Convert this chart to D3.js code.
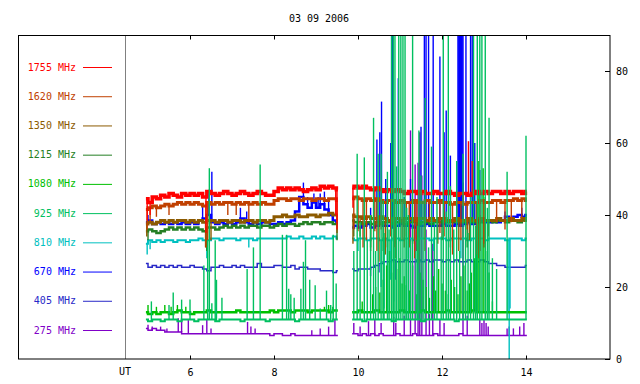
<!DOCTYPE html>
<html><head><meta charset="utf-8">
<script src="https://cdn.jsdelivr.net/npm/d3@7"></script>
<style>
body{margin:0;background:#fff}
svg text{font-family:"DejaVu Sans Mono",monospace;font-size:10px}
</style>
</head><body><svg id="c" width="640" height="384"></svg>
<script>
// ---------------- DATA ----------------
const title = "03 09 2006";
const xTicks = [6, 8, 10, 12, 14];
const yTicks = [0, 20, 40, 60, 80];
const utLabel = "UT";
const freqLabels = ["1755 MHz","1620 MHz","1350 MHz","1215 MHz","1080 MHz","925 MHz","810 MHz","670 MHz","405 MHz","275 MHz"];
const colors = ["#ff0000","#c04000","#8c5a00","#247f24","#00c000","#00c060","#00c0c0","#0000ff","#2828c8","#8000c8"];

// sample times (UT hours), two observing segments
const tA = [4.95,5.05,5.15,5.25,5.35,5.45,5.55,5.65,5.75,5.85,
            5.95,6.05,6.15,6.25,6.35,6.45,6.55,6.65,6.75,6.85,
            6.95,7.05,7.15,7.25,7.35,7.45,7.55,7.65,7.75,7.85,
            7.95,8.05,8.15,8.25,8.35,8.45,8.55,8.65,8.75,8.85,
            8.95,9.05,9.15,9.25,9.35,9.45,9.52];
const tB = [9.86,9.95,10.05,10.15,10.25,10.35,10.45,10.55,10.65,10.75,
            10.85,10.95,11.05,11.15,11.25,11.35,11.45,11.55,11.65,11.75,
            11.85,11.95,12.05,12.15,12.25,12.35,12.45,12.55,12.65,12.75,
            12.85,12.95,13.05,13.15,13.25,13.35,13.45,13.55,13.65,13.75,
            13.85,13.95,14.02];

const v1755A = [44.5,43.5,45,44.5,45.5,45,46,45.5,45,46,
                45.5,46,45.5,46,45,46.5,46,45.5,46,46.5,
                46,45.5,46,46.5,46,45.5,46,46.5,46,45.5,
                45.5,46.5,47.5,47,47.5,47,47.5,47,46.5,47,
                47.5,47,48,47.5,48,47.5,47];
const v1755B = [47.5,48,47.5,48,47.5,47,47.5,47,46.5,47,
                46.5,47,46.5,46,46.5,46.5,46,46.5,46,46,
                46.5,46,46,46.5,46,45.5,46,46,45.5,46,
                46.5,46,46.5,46,46.5,46.5,46,46.5,46,46.5,
                46.5,46,46.5];
const v1620A = [41.5,42,42.5,42,42.5,43,42.5,43,43.5,43,
                43.5,43,43.5,43,42.5,43.5,43,43.5,43,43.5,
                43.5,43,43.5,43,43.5,43,43.5,43,43.5,43,
                43,44,44.5,44.5,44,44.5,44.5,44,44.5,44.5,
                44,44.5,44.5,44,44.5,44.5,44];
const v1620B = [44.5,45,44.5,44,44.5,44,44.5,44,43.5,44,
                44,43.5,44,43.5,43.5,44,43.5,43.5,44,43.5,
                43.5,44,43.5,43.5,43,43.5,43.5,43,43.5,43.5,
                43.5,44,43.5,43.5,44,44,43.5,44,44,44.5,
                44,44.5,44];
const v1350A = [37.5,38,37.5,38,38.5,38,38.5,38,38.5,38.5,
                38,38.5,38,38.5,38,38.5,38.5,38,38.5,38.5,
                38,38.5,38.5,38,38.5,38.5,38,38.5,38.5,38,
                38.5,39.5,39.5,40,39.5,39.5,40,39.5,39.5,40,
                40,39.5,40,40,40.5,40,40];
const v1350B = [40,39.5,39.5,39,39.5,39,39,39.5,39,38.5,
                39,39,38.5,39,39,38.5,39,39,38.5,39,
                38.5,39,39,38.5,38.5,39,38.5,38.5,39,38.5,
                38.5,39,38.5,38.5,38.5,39,38.5,38.5,39,38.5,
                38.5,39,38.5];
const v1215A = [35.5,36,35.5,35,35.5,36,36.5,36,36.5,36,
                36.5,36,36.5,36,35.5,36.5,36.5,36,36.5,37,
                36.5,37,36.5,37,36.5,37,37,36.5,37,37,
                36.5,37,37.5,37,37.5,37.5,37,37.5,38,37.5,
                38,38,37.5,38,38,37.5,37.5];
const v1215B = [38.5,38,38,37.5,38,37.5,38,37.5,38,38,
                37.5,38,38,37.5,38,38,37.5,38,38,37.5,
                38,38,38.5,38,38,38.5,38,38,38.5,38,
                38.5,38,38.5,38.5,38,38.5,38.5,38,38.5,38.5,
                38,38.5,38.5];
const v1080A = [13,12.5,13,12.5,13,13,12.5,13,13.5,13,
                13,12.5,13,13,13,13.5,13,13,13,13,
                13,13,13.5,13,13,13,13,13,13,13,
                13.5,13,13.5,13.5,13.5,13,13.5,13.5,13.5,13,
                13.5,13.5,13.5,13.5,13,13.5,13.5];
const v1080B = [13,13,13.5,13,13,13,13.5,13,13,13,
                13,13,13.5,13,13,13,13,13.5,13,13,
                13,13,13,13.5,13,13,13,13,13,13.5,
                13,13,13,13,13,13,13,13,13,13,
                13,13,13];
const v925A = [11,10.5,11,11,10.5,11,11,11,10.5,11,
               11,11,10.5,11,11,11,11,10.5,11,11,
               11,11,11,10.5,11,11,11,11,11,10.5,
               11,11,11,11,11,11,10.5,11,11,11,
               11,11,11,11,10.5,11,11];
const v925B = [11,11,11,10.5,11,11,11,11,11,11,
               10.5,11,11,11,11,11,11,10.5,11,11,
               11,11,11,11,11,10.5,11,11,11,11,
               11,11,11,11,11,11,11,11,11,11,
               11,11,11];
const v810A = [32,33,32.5,33,32.5,33,33,32.5,33,33,
               32.5,33,33,33.5,33,33,33.5,33.5,33,33.5,
               33.5,33.5,33,33.5,33.5,33.5,33,33.5,33.5,33.5,
               33.5,33.5,33.5,33.5,34,33.5,33.5,34,33.5,33.5,
               34,33.5,34,33.5,33.5,34,33.5];
const v810B = [33.5,33,33.5,33.5,33,33.5,33.5,33,33.5,33,
               33.5,33.5,33,33.5,33.5,33,33.5,33.5,33.5,33,
               33.5,33.5,33.5,33,33.5,33.5,33.5,33.5,33,33.5,
               33.5,33.5,33,33.5,33.5,33.5,33.5,33,33.5,33.5,
               33.5,33,33.5];
const v670A = [38,38.5,37.5,38,37.5,38,37.5,38,37.5,38,
               37.5,38,37.5,38.5,39,40,38,37.5,38,37.5,
               38,37.5,38,39,38,37.5,38,37.5,38,38,
               37.5,37.5,38,37.5,38,38.5,41,45,43,42,
               43.5,42,43,41.5,40,38.5,38];
const v670B = [36.5,37,36.5,37,37.5,36.5,37,37.5,37,37,
               36.5,37,37.5,37,37,36.5,37,37,37.5,37,
               37,37,37.5,37,37,37.5,37,37.5,38,37.5,
               38,38.5,38,38,38.5,38,38.5,39.5,39,39.5,
               40,39.5,40];
const v405A = [26.5,25.5,26,25.5,26,25.5,26,25.5,26,25.5,
               25.5,26,25.5,25.5,25,24.5,25.5,25.5,26,25.5,
               25.5,26,25.5,26,25.5,25.5,25.5,26.5,25.5,25.5,
               25.5,26,26,25.5,25.5,26,25,25.5,25.5,25,
               25,25,24.5,24.5,24.5,24,24.5];
const v405B = [25,24.5,25,25,25,25.5,26,26.5,27,27,
               27.5,27,27,27.5,27,27,27.5,27,27.5,27,
               27.5,27.5,27,27.5,27,27.5,27,27,27.5,27,
               27,27.5,27,26.5,26.5,26,26,25.5,25.5,25.5,
               25.5,25.5,26];
const v275A = [8.5,8,8.5,8,8,7.5,7.5,7.5,7.5,7,
               7,7,7,7,7,7,7,7,7,7,
               7,7,7,7,7,7,7,7,7,7,
               6.5,7,7,6.5,6.5,7,6.5,6.5,6.5,6.5,
               6.5,6.5,6.5,6.5,6.5,6.5,6.5];
const v275B = [7,7,6.5,7,6.5,7,6.5,7,6.5,6.5,
               6.5,7,6.5,6.5,6.5,7,6.5,6.5,6.5,6.5,
               7,6.5,6.5,6.5,6.5,6.5,7,6.5,6.5,6.5,
               6.5,6.5,6.5,6.5,6.5,6.5,6.5,6.5,6.5,6.5,
               6.5,6.5,6.5];

// short excursions (spikes / dips): [UT hour, value reached]
const s1755 = [[4.98,38.5],[5.05,40],[6.38,35],[9.47,40],[9.5,36],
               [9.88,42],[10.4,44],[12.35,40.5],[12.5,43],[12.63,60.5],[12.72,55]];
const s1620 = [[4.98,36],[5.05,38],[5.2,39.5],[5.5,40],[6.38,31],[6.42,33],[6.9,40],[7.1,40],[7.4,38],[9.5,38],
               [9.9,36],[10.0,35.5],[10.12,31],[10.2,33],[10.4,35.5],[10.45,30],[10.55,36],[10.7,31],[10.78,34],[10.87,31],
               [11.05,33],[11.15,34],[11.22,31],[11.35,28],[11.4,33],[11.6,30],[11.7,38],[11.95,35],[12.05,34],[12.25,29],
               [12.45,33],[12.6,36],[12.82,29],[12.9,30],[13.0,32],[13.3,38],[13.5,36],[13.65,38],[13.9,39]];
const s1350 = [[4.97,34],[6.37,31],[6.5,33],[9.5,35],
               [9.88,32],[10.05,34],[10.3,30],[10.5,27],[10.65,29],[10.9,28],[11.1,31],[11.3,32],[11.45,26.5],
               [11.6,30],[11.9,32],[12.2,31],[12.4,30],[12.65,33],[12.88,28],[13.0,31],[13.1,34]];
const s1215 = [[5.0,33],[6.4,30],[9.5,33],
               [9.9,34],[10.3,31],[10.6,30],[10.9,32],[11.4,30],[12.0,33],[12.6,31],[12.9,30]];
const s1080 = [[5.0,15],[5.2,14.5],[5.4,15],[5.55,14.5],[5.7,15],[5.9,14.5],[9.2,14.5],[9.3,15],[9.4,14.5],
               [10.1,16],[10.35,18],[10.52,18.5],[10.6,22],[10.75,30],[10.85,31],[10.92,25],[11.05,21],[11.15,20.5],
               [11.3,26],[11.4,18],[11.55,22],[11.7,17],[11.85,19],[12.0,21],[12.15,18],[12.3,20],[12.45,23],
               [12.6,19],[12.7,24],[12.86,55],[12.9,40],[12.98,53],[13.03,45],[13.08,30],[13.2,16],
               [10.42,20],[10.68,26],[10.8,24],[11.0,28],[11.1,23],[11.22,19],[11.48,24],[11.62,20],[11.8,23],
               [11.92,25],[12.08,19],[12.22,22],[12.38,18],[12.52,26],[12.65,21],[12.78,28],[12.82,35],[13.12,24]];
const s925 = [[5.08,16],[5.5,15],[5.6,18.5],[5.8,16.5],[6.0,16.5],[6.33,26],[6.42,33],[6.46,53],[6.52,15.5],[6.6,33],
              [6.63,22],[6.76,17],[7.36,25],[7.51,31],[7.67,54],[8.2,34.5],[8.3,34.5],[8.35,19.5],[8.4,18],[8.48,17],
              [8.64,19.5],[8.7,27],[8.75,33],[8.85,22],[8.98,20.5],[9.1,14],[9.25,19],[9.35,15],[9.41,34.5],[9.48,21],
              [9.9,30],[9.98,57],[10.15,56],[10.3,40],[10.37,67],[10.48,57],[10.55,57],[10.62,35],[10.7,52],[10.8,90],
              [10.84,90],[10.88,90],[10.92,53.5],[10.97,90],[11.02,90],[11.07,90],[11.12,90],[11.2,40],[11.3,90],[11.38,30],
              [11.45,63.5],[11.5,51],[11.6,72.5],[11.75,59],[11.88,45],[12.03,90],[12.15,90],[12.2,48],[12.35,55],[12.5,57],
              [12.62,35],[12.75,90],[12.84,90],[12.9,90],[12.95,90],[13.03,90],[13.12,67],[13.2,28],[13.55,52],[14.0,62],
              [10.05,38],[10.22,33],[10.42,30],[10.6,44],[10.74,36],[11.16,42],[11.25,33],[11.42,37],[11.55,44],[11.68,31],
              [11.82,38],[11.98,34],[12.1,41],[12.28,36],[12.42,30],[12.56,39],[12.68,45],[12.8,37],[13.08,42],[13.3,25]];
const s810 = [[4.98,29],[5.05,30.5],[6.4,28],[7.4,31],
              [10.0,30],[10.55,20],[10.62,14],[10.7,13],[10.78,22],[10.85,16],[11.2,28],[11.8,30],[12.45,28],
              [13.57,13],[13.6,0],[13.62,14]];
const s670 = [[5.0,40],[6.3,43],[6.45,47],[6.52,52],[7.2,42],[7.35,41],[8.7,49],[9.05,45],[9.1,46],[9.2,46.5],
              [10.0,40],[10.3,42],[10.45,61],[10.52,63],[10.56,71.5],[10.66,50],[10.78,60],[10.8,90],[10.82,90],[10.96,78],
              [11.1,45],[11.25,50],[11.5,64.5],[11.58,90],[11.62,90],[11.68,90],[11.79,90],[11.95,84],[12.05,63],[12.1,69],
              [12.2,56.5],[12.38,90],[12.4,90],[12.42,90],[12.44,90],[12.46,90],[12.48,90],[12.5,90],[12.57,90],[12.68,90],
              [12.72,90],[12.78,60],[12.9,52.5],[13.5,41],[13.9,42],
              [8.6,44],[8.8,45],[8.95,46],[9.3,44]];
const s405 = [[10.3,23],[10.5,24],[10.9,22],[12.8,23]];
const s275 = [[5.0,9.5],[5.1,9],[5.3,9],[5.45,8.5],[5.72,11.3],[5.8,11],[5.96,10.8],[6.3,9.4],[6.4,10.8],[6.5,8.5],
              [7.37,10.3],[7.45,9],[7.55,8.5],[8.9,8],[9.1,8.5],[9.3,9],[9.45,10.8],
              [9.9,10],[10.05,9],[10.25,10.5],[10.4,11],[10.55,10],[10.85,11.7],[10.9,10],[11.1,12],[11.25,63.5],
              [11.36,54],[11.43,54.5],[11.47,63],[11.52,51],[11.62,36],[11.7,12.5],[11.78,32],[11.95,11],[12.05,10],
              [12.5,49],[12.6,12],[12.9,11],[12.95,10],[13.0,11],[13.05,10],[13.1,9],[13.55,8.5],[13.6,9],[13.7,8.5],
              [13.85,9],[13.95,10]];

// ---------------- CHART ----------------
const svg = d3.select("#c");
const x = d3.scaleLinear().domain([4.452, 16]).range([125, 610]);
const y = d3.scaleLinear().domain([0, 90]).range([359, 35]);

const table = [
  {i:0, segs:[[tA,v1755A],[tB,v1755B]], spikes:s1755},
  {i:1, segs:[[tA,v1620A],[tB,v1620B]], spikes:s1620},
  {i:2, segs:[[tA,v1350A],[tB,v1350B]], spikes:s1350},
  {i:3, segs:[[tA,v1215A],[tB,v1215B]], spikes:s1215},
  {i:4, segs:[[tA,v1080A],[tB,v1080B]], spikes:s1080},
  {i:5, segs:[[tA,v925A],[tB,v925B]], spikes:s925},
  {i:6, segs:[[tA,v810A],[tB,v810B]], spikes:s810},
  {i:7, segs:[[tA,v670A],[tB,v670B]], spikes:s670},
  {i:8, segs:[[tA,v405A],[tB,v405B]], spikes:s405},
  {i:9, segs:[[tA,v275A],[tB,v275B]], spikes:s275}
];
const widths = [3.5, 3, 3, 2.5, 2.5, 2, 2, 2.5, 1.5, 1.5];
const drawOrder = [9, 8, 7, 6, 4, 3, 2, 1, 0, 5];

svg.append("defs").append("clipPath").attr("id","plot")
  .append("rect").attr("x",18).attr("y",35).attr("width",592).attr("height",324);

// title
svg.append("text").attr("x",319).attr("y",22).attr("text-anchor","middle").text(title);

// UT separator
svg.append("line").attr("x1",125.5).attr("x2",125.5).attr("y1",35).attr("y2",359)
  .attr("stroke","#808080").attr("stroke-width",1);

const line = d3.line().x(d => x(d[0])).y(d => y(d[1])).curve(d3.curveStep);
const plot = svg.append("g").attr("clip-path","url(#plot)");

function baseAt(s, t) {
  let best = null, bd = Infinity;
  s.segs.forEach(([ts, vs]) => ts.forEach((tt, k) => {
    const d = Math.abs(tt - t);
    if (d < bd) { bd = d; best = vs[k]; }
  }));
  return best;
}

drawOrder.forEach(idx => {
  const s = table[idx];
  const g = plot.append("g");
  s.segs.forEach(([ts, vs]) => {
    g.append("path").datum(ts.map((t, k) => [t, vs[k]]))
      .attr("d", line).attr("fill","none")
      .attr("stroke", colors[idx]).attr("stroke-width", widths[idx])
      .attr("stroke-linejoin","miter");
  });
  g.selectAll("line.sp").data(s.spikes).join("line").attr("class","sp")
    .attr("x1", d => x(d[0])).attr("x2", d => x(d[0]))
    .attr("y1", d => y(baseAt(s, d[0]))).attr("y2", d => y(d[1]))
    .attr("stroke", colors[idx]).attr("stroke-width", 1.4);
});

// frame
svg.append("rect").attr("x",18.5).attr("y",35.5).attr("width",591.5).attr("height",323.5)
  .attr("fill","none").attr("stroke","#000").attr("stroke-width",1);

// bottom axis
const xb = svg.append("g").attr("transform","translate(0,359.5)")
  .call(d3.axisBottom(x).tickValues(xTicks).tickSize(-4).tickPadding(9).tickFormat(d3.format("d")));
xb.select(".domain").remove();
xb.selectAll("text").attr("font-family","DejaVu Sans Mono").attr("font-size",10);
// top ticks
const xt = svg.append("g").attr("transform","translate(0,35.5)")
  .call(d3.axisTop(x).tickValues(xTicks).tickSize(-4).tickFormat(""));
xt.select(".domain").remove();

svg.append("text").attr("x",125).attr("y",375).attr("text-anchor","middle").text(utLabel);

// right axis
const yr = svg.append("g").attr("transform","translate(610,0)")
  .call(d3.axisRight(y).tickValues(yTicks).tickSize(-5).tickPadding(6).tickFormat(d3.format("d")));
yr.select(".domain").remove();
yr.selectAll("text").attr("font-family","DejaVu Sans Mono").attr("font-size",10);

// legend
const ly = d3.scaleLinear().domain([0, 9]).range([67, 330]);
const leg = svg.append("g").selectAll("g").data(freqLabels).join("g")
  .attr("transform", (d, i) => `translate(0,${ly(i)})`);
leg.append("text").attr("x",76).attr("y",3.5).attr("text-anchor","end")
  .attr("fill", (d, i) => colors[i]).text(d => d);
leg.append("line").attr("x1",83).attr("x2",112).attr("y1",0.5).attr("y2",0.5)
  .attr("stroke", (d, i) => colors[i]).attr("stroke-width",1);
</script>
</body></html>
